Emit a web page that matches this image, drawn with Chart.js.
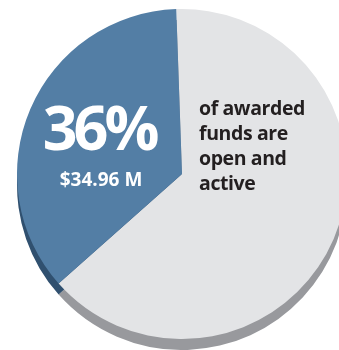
<!DOCTYPE html>
<html>
<head>
<meta charset="utf-8">
<script src="https://cdn.jsdelivr.net/npm/chart.js@4/dist/chart.umd.min.js"></script>
<style>
  html, body { margin: 0; padding: 0; background: #fff; overflow: hidden; }
  #wrap { position: relative; width: 365px; height: 350px; }
</style>
</head>
<body>
<div id="wrap"><canvas id="pie"></canvas></div>
<script>
// awarded funds, millions of dollars
var labels = ['Closed', 'Open and active']
var values = [62.15, 34.96]
var faceColors = ['#e3e4e6', '#537ea5']
var sideColors = ['#98999d', '#30506f']
var caption = ['of awarded', 'funds are', 'open and', 'active']
var depth = 11

var total = values[0] + values[1]
var pct = Math.round(values[1] / total * 100)

// extruded edge under the pie: same arcs, pushed down
var sidePlugin = {
  id: 'side',
  beforeDatasetsDraw: function(chart) {
    var ctx = chart.ctx
    var arcs = chart.getDatasetMeta(0).data
    ctx.save()
    ctx.translate(0, depth)
    for (var i = 0; i < arcs.length; i++) {
      var a = arcs[i]
      ctx.beginPath()
      ctx.moveTo(a.x, a.y)
      ctx.arc(a.x, a.y, a.outerRadius, a.startAngle, a.endAngle)
      ctx.closePath()
      ctx.fillStyle = sideColors[i]
      ctx.fill()
    }
    ctx.restore()
  }
}

var textPlugin = {
  id: 'labels',
  afterDatasetsDraw: function(chart) {
    var ctx = chart.ctx
    ctx.save()
    ctx.fillStyle = '#fff'
    ctx.textAlign = 'left'
    ctx.textBaseline = 'alphabetic'
    ctx.font = 'bold 61px "Open Sans"'
    ctx.letterSpacing = '-4px'
    var big = pct + '%'
    var w = ctx.measureText(big).width
    ctx.fillText(big, 99 - w / 2, 150)
    ctx.letterSpacing = '0px'
    ctx.textAlign = 'center'
    ctx.font = 'bold 19px "Open Sans"'
    ctx.fillText('$' + values[1].toFixed(2) + ' M', 101, 186)

    ctx.fillStyle = '#231f20'
    ctx.textAlign = 'left'
    ctx.font = 'bold 19.5px "Open Sans"'
    ctx.letterSpacing = '-0.4px'
    for (var i = 0; i < caption.length; i++) {
      ctx.fillText(caption[i], 199, 115 + i * 25)
    }
    ctx.restore()
  }
}

new Chart(document.getElementById('pie'), {
  type: 'pie',
  data: {
    labels: labels,
    datasets: [{
      data: values,
      backgroundColor: faceColors,
      borderWidth: 0
    }]
  },
  options: {
    responsive: true,
    maintainAspectRatio: false,
    animation: false,
    rotation: -2,
    layout: { padding: { left: 17, right: 18, top: 9, bottom: 11 } },
    plugins: {
      legend: { display: false },
      tooltip: { enabled: false }
    },
    events: []
  },
  plugins: [sidePlugin, textPlugin]
})
</script>
</body>
</html>
